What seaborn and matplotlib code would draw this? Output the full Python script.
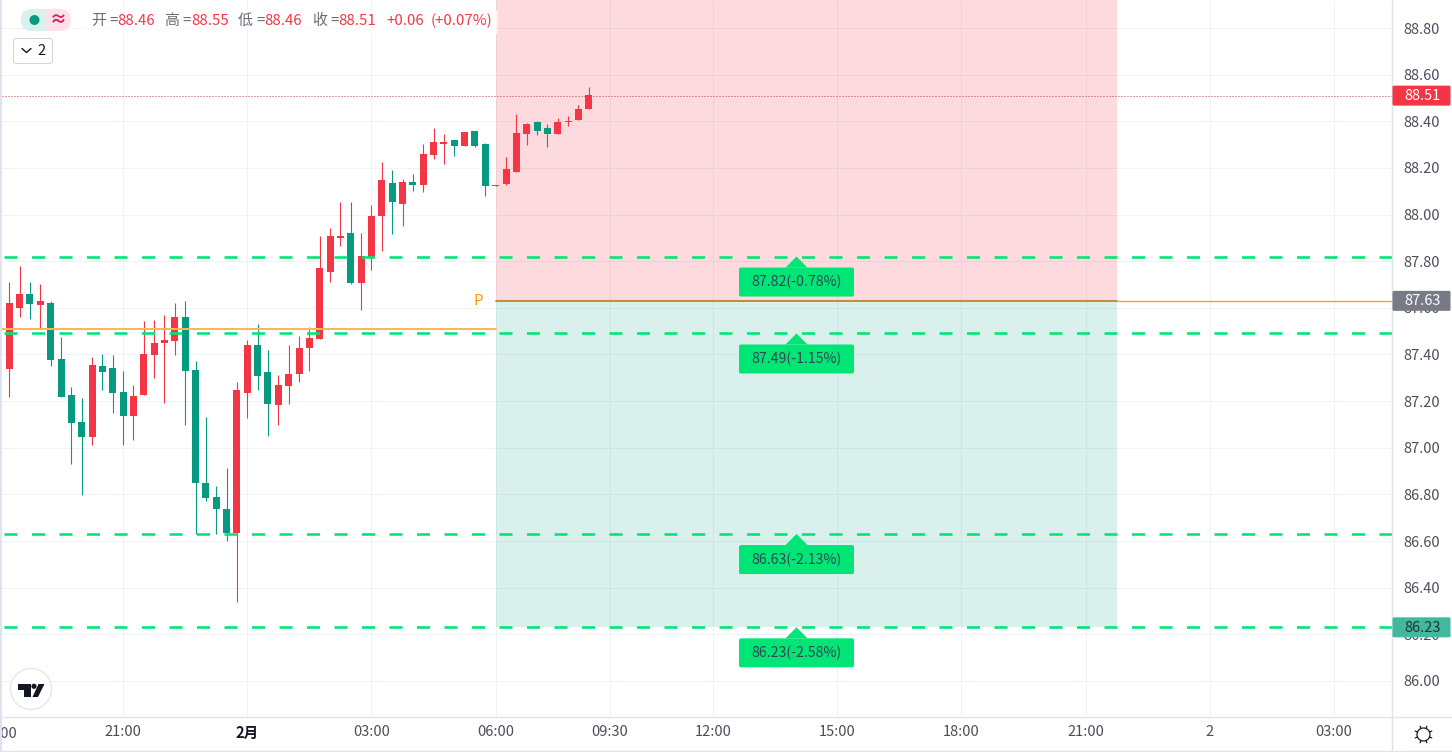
import numpy as np
import pandas as pd
import seaborn as sns
import matplotlib
matplotlib.use("Agg")
import matplotlib.pyplot as plt
from matplotlib.patches import FancyBboxPatch, Rectangle, Polygon, Circle

# ---------- data ----------
candle_index = list(range(-24, 34))
opens = [87.448,87.338,87.599,87.659,87.612,87.621,87.381,87.226,87.110,87.046,87.351,87.342,87.239,87.136,
         87.226,87.398,87.449,87.458,87.561,87.333,86.849,86.789,86.737,86.634,87.235,87.441,87.325,87.183,
         87.265,87.316,87.428,87.466,87.754,87.900,87.921,87.706,87.818,87.994,88.135,88.045,88.140,88.127,
         88.255,88.303,88.320,88.294,88.358,88.303,88.122,88.131,88.182,88.345,88.397,88.371,88.345,88.397,
         88.405,88.453]
closes = [87.338,87.621,87.659,87.616,87.629,87.376,87.218,87.106,87.046,87.355,87.325,87.235,87.136,87.222,
          87.402,87.449,87.462,87.561,87.329,86.849,86.785,86.737,86.634,87.248,87.441,87.308,87.188,87.269,
          87.316,87.428,87.471,87.771,87.908,87.908,87.706,87.822,87.994,88.148,88.054,88.140,88.127,88.260,
          88.311,88.311,88.294,88.354,88.294,88.122,88.127,88.195,88.350,88.388,88.358,88.345,88.397,88.401,
          88.453,88.513]
highs = [87.448,87.711,87.779,87.711,87.702,87.629,87.475,87.261,87.213,87.389,87.402,87.398,87.329,87.269,
         87.544,87.548,87.569,87.621,87.629,87.372,87.132,86.836,86.913,87.282,87.462,87.531,87.419,87.312,
         87.441,87.479,87.518,87.908,87.942,88.054,88.054,87.921,88.041,88.225,88.191,88.152,88.174,88.303,
         88.371,88.345,88.320,88.354,88.358,88.307,88.127,88.247,88.431,88.393,88.401,88.388,88.414,88.423,
         88.470,88.547]
lows = [87.338,87.218,87.561,87.552,87.514,87.351,87.218,86.930,86.797,87.012,87.248,87.149,87.012,87.033,
        87.226,87.299,87.192,87.398,87.098,86.630,86.772,86.630,86.600,86.339,87.128,87.248,87.050,87.098,
        87.188,87.282,87.329,87.466,87.711,87.865,87.702,87.591,87.762,87.844,87.917,87.951,88.101,88.097,
        88.238,88.217,88.251,88.294,88.290,88.080,88.122,88.127,88.182,88.298,88.341,88.290,88.345,88.380,
        88.405,88.453]

price_ticks = [86.0, 86.2, 86.4, 86.6, 86.8, 87.0, 87.2, 87.4, 87.6, 87.8, 88.0, 88.2, 88.4, 88.6, 88.8]
time_ticks = [-12, 0, 12, 24, 35, 45, 57, 69, 81, 93, 105]
time_labels = ["21:00", "2月", "03:00", "06:00", "09:30", "12:00", "15:00", "18:00", "21:00", "2", "03:00"]

levels = [87.82, 87.49, 86.63, 86.23]
level_labels = ["87.82(-0.78%)", "87.49(-1.15%)", "86.63(-2.13%)", "86.23(-2.58%)"]
pivot_old = 87.51
pivot_new = 87.63
last_price = 88.51
zone_start, zone_end = 24, 84
legend_parts = [("开", "88.46", 91), ("高", "88.55", 164.5), ("低", "88.46", 238), ("收", "88.51", 312)]

# ---------- style ----------
sns.set_theme(style="white")
FONT = ["Noto Sans CJK SC", "DejaVu Sans"]
plt.rcParams["font.family"] = FONT
UP, DOWN, LIME = "#F23645", "#089981", "#00E676"
GRID, EDGE, TXT = "#F0F3F6", "#E0E3EB", "#4A4E5A"
W, H, DPI = 1452, 752, 100
PX = 72 / DPI
FS = 14.6 * PX
HFS = 15 * PX

fig = plt.figure(figsize=(W / DPI, H / DPI), dpi=DPI, facecolor="white")
L, R, B = 2, 1392, 717
ax = fig.add_axes([L / W, 1 - B / H, (R - L) / W, B / H])
x0, dx = 247.3, 10.35
ax.set_xlim((L - x0) / dx, (R - x0) / dx)
y0, dy = 28.0, 233.2
ax.set_ylim(88.8 - (B - y0) / dy, 88.8 + y0 / dy)
ax.set_facecolor("white")

df = pd.DataFrame({"k": candle_index, "open": opens, "close": closes, "high": highs, "low": lows})
df["dir"] = np.where(df.close >= df.open, "up", "down")

# grid
ax.set_xticks(time_ticks, time_labels)
ax.set_yticks(price_ticks, [f"{p:.2f}" for p in price_ticks])
ax.grid(True, color=GRID, lw=1.0 * PX, zorder=0)
ax.set_axisbelow(True)

# zones
ax.add_patch(Rectangle((zone_start, pivot_new), zone_end - zone_start, 5, fc=UP, alpha=0.18, lw=0, zorder=1))
ax.add_patch(Rectangle((zone_start, levels[3]), zone_end - zone_start, pivot_new - levels[3], fc="#00A085", alpha=0.15, lw=0, zorder=1))

# wicks through seaborn
wick = df.melt(id_vars=["k", "dir"], value_vars=["high", "low"], value_name="price")
sns.lineplot(data=wick, x="k", y="price", units="k", estimator=None, hue="dir",
             palette={"up": UP, "down": DOWN}, lw=1.1 * PX, legend=False, ax=ax, zorder=3,
             solid_capstyle="butt", sort=False)

# bodies
ax.bar(df.k, (df.close - df.open).abs().clip(lower=0.006), bottom=df[["open", "close"]].min(axis=1),
       width=7.0 / dx, color=[UP if d == "up" else DOWN for d in df.dir], lw=0, zorder=4)

# dashed target levels
xs = (4 - x0) / dx, (R - x0) / dx
LW = 2.6
for lv in levels:
    sns.lineplot(x=list(xs), y=[lv, lv], color=LIME, lw=LW * PX, ax=ax, zorder=5, legend=False,
                 dashes=(13 / LW, 14.5 / LW), estimator=None)
for ln in ax.lines[-4:]:
    ln.set_dash_capstyle("butt")

# pivot lines
sns.lineplot(x=[ax.get_xlim()[0], zone_start], y=[pivot_old] * 2, color="#FFB45E", lw=2 * PX, ax=ax, zorder=5, estimator=None)
sns.lineplot(x=[zone_start, zone_end], y=[pivot_new] * 2, color="#C98A45", lw=2 * PX, ax=ax, zorder=5, estimator=None)
sns.lineplot(x=[zone_end, ax.get_xlim()[1]], y=[pivot_new] * 2, color="#F5A03A", lw=1.4 * PX, ax=ax, zorder=5, estimator=None)

# last price dotted
ax.plot(ax.get_xlim(), [last_price] * 2, color="#A8484F", lw=1 * PX, ls=(0, (1, 2)), zorder=2)

# axis cosmetics
sns.despine(ax=ax, left=True, bottom=True, top=True, right=True)
ax.set_xlabel("")
ax.set_ylabel("")
ax.yaxis.tick_right()
ax.tick_params(axis="y", length=0, pad=30 * PX, labelsize=FS, labelcolor=TXT)
ax.tick_params(axis="x", length=0, pad=8 * PX, labelsize=FS, labelcolor=TXT)
for t in ax.get_yticklabels():
    t.set_ha("center")
for t, lab in zip(ax.get_xticklabels(), time_labels):
    if lab == "2月":
        t.set_fontweight("bold")
        t.set_color("#131722")

# ---------- overlay in screen pixels ----------
ui = fig.add_axes([0, 0, 1, 1], zorder=10)
ui.set_xlim(0, W)
ui.set_ylim(H, 0)
ui.axis("off")
ui.patch.set_alpha(0)

def y_px(p):
    return y0 + (88.8 - p) * dy

ui.text(478, 301, "P", color="#FF9800", fontsize=15 * PX, ha="center", va="center", zorder=6)

# frame
ui.add_patch(Rectangle((0, 0), 2, H, fc="#DFE3EF", lw=0, zorder=8))
ui.plot([R, R], [0, H], color=EDGE, lw=1.4 * PX)
ui.plot([L, W], [B, B], color=EDGE, lw=1.4 * PX)
ui.plot([0, W], [750.5, 750.5], color=EDGE, lw=1.4 * PX)
ui.text(-1, 733.5, "18:00", fontsize=FS, color=TXT, ha="center", va="center", zorder=7, clip_on=True)

# green level labels
cx = 796.5
for lv, lab in zip(levels, level_labels):
    y = y_px(lv)
    ui.add_patch(Polygon([[cx, y], [cx + 11, y + 11], [cx - 11, y + 11]], fc=LIME, lw=0, zorder=3))
    ui.add_patch(FancyBboxPatch((cx - 55.5, y + 13), 111, 25, boxstyle="round,pad=2,rounding_size=2",
                                fc=LIME, lw=0, zorder=3))
    ui.text(cx, y + 25.5, lab, fontsize=14.2 * PX, color="#37474F", ha="center", va="center", zorder=4)

# price tags
tags = [(last_price, UP, "white", "88.51"), (pivot_new, "#787B86", "white", "87.63"), (levels[3], "#42B99F", "#263238", "86.23")]
for p, bg, fg, txt in tags:
    y = y_px(p)
    ui.add_patch(FancyBboxPatch((R + 1, y - 9.5), 57, 19, boxstyle="round,pad=0.5,rounding_size=1.5", fc=bg, lw=0, zorder=3))
    ui.text(1422.5, y + 0.5, txt, fontsize=FS, color=fg, ha="center", va="center", zorder=4)

# legend header
ui.add_patch(Rectangle((82, 10), 416, 24, fc="white", alpha=0.65, lw=0, zorder=1))
ui.add_patch(FancyBboxPatch((21, 9), 50, 22, boxstyle="round,pad=0,rounding_size=11", fc="#FCE1E8", lw=0, zorder=2))
clip_left = Rectangle((21, 9), 25, 22, transform=ui.transData)
left = FancyBboxPatch((21, 9), 50, 22, boxstyle="round,pad=0,rounding_size=11", fc="#D9F1EC", lw=0, zorder=2)
ui.add_patch(left)
left.set_clip_path(clip_left)
ui.add_patch(Circle((34.5, 20), 5, fc=DOWN, lw=0, zorder=3))
ui.text(58, 20, "≈", fontsize=17 * PX, color="#E0185E", fontweight="bold", ha="center", va="center", zorder=3, family=FONT)
for lab, val, xp in legend_parts:
    ui.text(xp, 21, lab, fontsize=HFS, color="#6A6D78", ha="left", va="center", zorder=3)
    ui.text(xp + 26.5, 21, "=", fontsize=HFS, color="#6A6D78", ha="right", va="center", zorder=3)
    ui.text(xp + 26.5, 21, val, fontsize=HFS, color=UP, ha="left", va="center", zorder=3)
ui.text(386, 21, "+0.06", fontsize=HFS, color=UP, ha="left", va="center", zorder=3)
ui.text(431, 21, "(+0.07%)", fontsize=HFS, color=UP, ha="left", va="center", zorder=3)

# collapse button
ui.add_patch(FancyBboxPatch((13.5, 38.5), 39, 25, boxstyle="round,pad=0,rounding_size=3", fc="white", ec="#D1D4DC", lw=1 * PX, zorder=3))
ui.plot([22, 26.5, 31], [48.5, 52.5, 48.5], color="#131722", lw=1.4 * PX, zorder=4)
ui.text(42, 51, "2", fontsize=FS, color="#131722", ha="center", va="center", zorder=4)

# logo
ui.add_patch(Circle((31, 689), 20.5, fc="white", ec="#E9EAEE", lw=1.6 * PX, zorder=3))
logo = "#131722"
ui.add_patch(Polygon([[18, 684], [30.5, 684], [30.5, 697], [24, 697], [24, 690], [18, 690]], fc=logo, lw=0, zorder=4))
ui.add_patch(Circle((34, 686.3), 2.6, fc=logo, lw=0, zorder=4))
ui.add_patch(Polygon([[38.5, 684], [44.5, 684], [38, 697], [32.5, 697]], fc=logo, lw=0, zorder=4))

# settings gear
gx, gy = 1423.5, 734.5
ui.add_patch(Circle((gx, gy), 6.5, fc="none", ec="#131722", lw=1.2 * PX, zorder=4))
for a in np.arange(8) * np.pi / 4 + np.pi / 8:
    ui.plot([gx + 6.5 * np.cos(a), gx + 9 * np.cos(a)], [gy + 6.5 * np.sin(a), gy + 9 * np.sin(a)],
            color="#131722", lw=1.2 * PX, zorder=4)

fig.savefig("out.png", dpi=DPI)
